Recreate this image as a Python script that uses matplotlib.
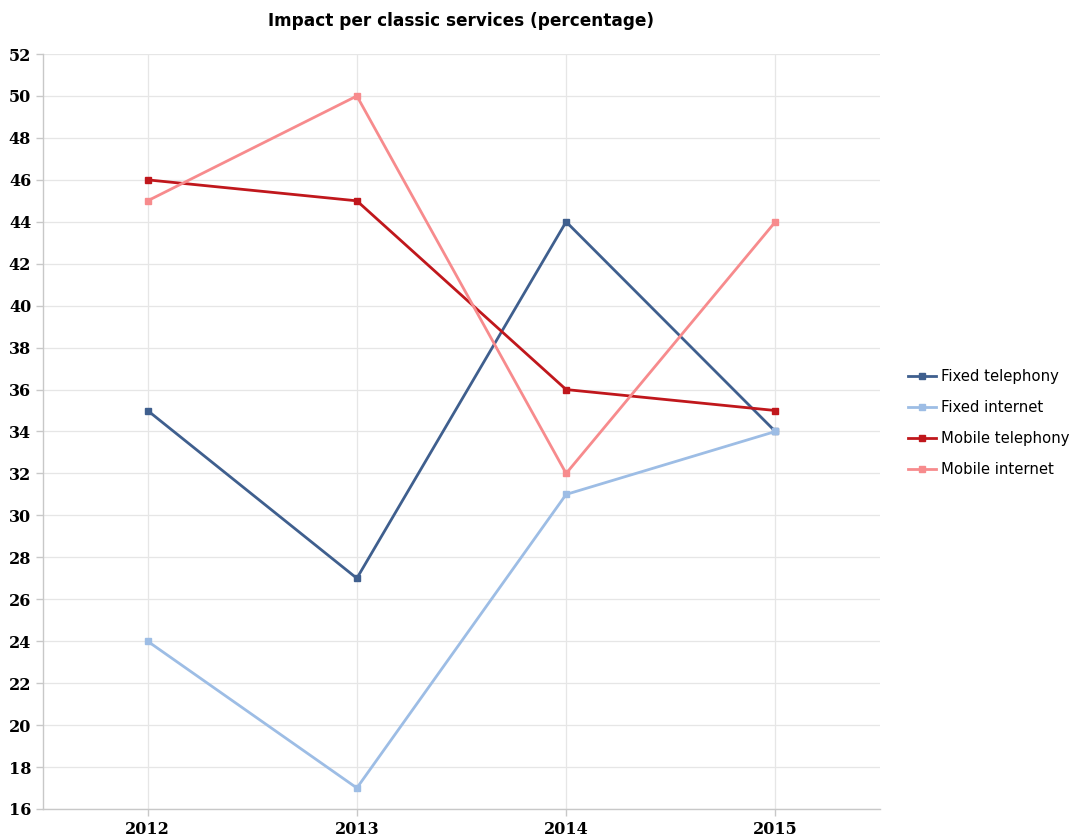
import matplotlib.pyplot as plt

# Impact per classic service, 2012-2015 (percentage)
years = ["2012", "2013", "2014", "2015"]
fixed_telephony = [35, 27, 44, 34]
fixed_internet = [24, 17, 31, 34]
mobile_telephony = [46, 45, 36, 35]
mobile_internet = [45, 50, 32, 44]

series = [
    ("Fixed telephony", fixed_telephony, "#3f5f8e"),
    ("Fixed internet", fixed_internet, "#9dbde5"),
    ("Mobile telephony", mobile_telephony, "#c0171c"),
    ("Mobile internet", mobile_internet, "#f78b8d"),
]

fig = plt.figure(figsize=(10.69, 8.39), dpi=100)
ax = fig.add_axes([0.0402, 0.0358, 0.7830, 0.8998])

x = list(range(len(years)))
for name, vals, color in series:
    ax.plot(x, vals, color=color, lw=2, marker="s", markersize=4.5,
            label=name, zorder=3)

ax.set_xlim(-0.5, len(years) - 0.5)
ax.set_ylim(16, 52)
ax.set_yticks(range(16, 53, 2))
ax.set_xticks(x)
ax.set_xticklabels(years)

ax.grid(True, color="#e6e6e6", lw=0.9)
ax.set_axisbelow(True)
for side in ("top", "right"):
    ax.spines[side].set_visible(False)
for side in ("left", "bottom"):
    ax.spines[side].set_color("#c8c8c8")
    ax.spines[side].set_linewidth(1)

ax.tick_params(axis="both", colors="#c8c8c8", length=5, width=1,
               labelcolor="black", labelsize=11.5)
for lbl in ax.get_xticklabels() + ax.get_yticklabels():
    lbl.set_fontfamily("DejaVu Serif")
    lbl.set_fontweight("bold")

fig.text(0.431, 0.975, "Impact per classic services (percentage)",
         ha="center", va="center", fontsize=12.2, fontweight="bold")

ax.legend(loc="center left", bbox_to_anchor=(1.017, 0.511), frameon=False,
          fontsize=10.75, handlelength=1.9, handletextpad=0.35,
          labelspacing=1.08, markerscale=0.9)

fig.savefig("out.png", dpi=100)
